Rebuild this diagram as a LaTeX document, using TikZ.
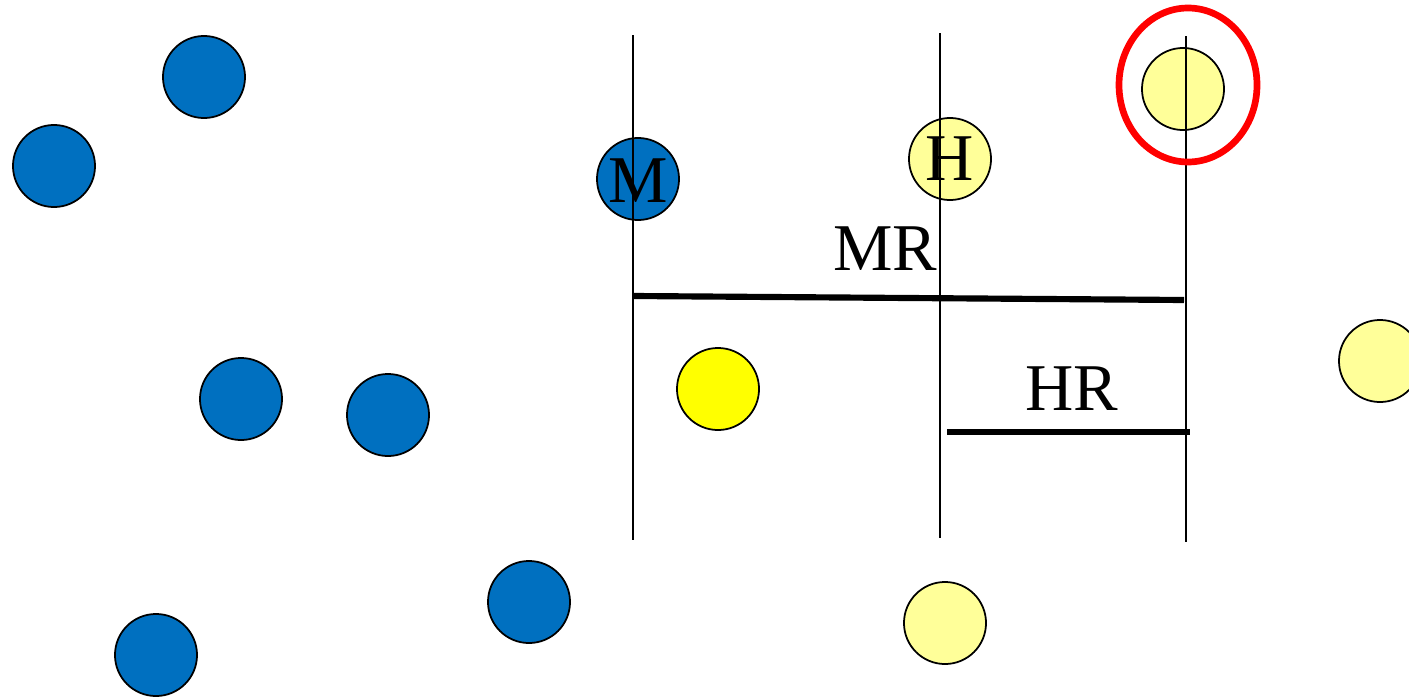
\documentclass[tikz,border=0pt]{standalone}
\usepackage{fontspec}
\setmainfont{Liberation Serif}
\usetikzlibrary{positioning}
\definecolor{ptblue}{HTML}{0070C0}
\definecolor{ptpale}{HTML}{FFFF99}
\definecolor{ptyellow}{HTML}{FFFF00}
\tikzset{
  pt/.style={
      circle,
      draw,
      line width=0.5pt,
      minimum size=0.82cm,
      inner sep=0pt,
      font=\fontsize{19}{21}\selectfont
    },
  ptb/.style={
      pt,
      fill=ptblue
    },
  pth/.style={
      pt,
      fill=ptpale
    },
  pty/.style={
      pt,
      fill=ptyellow
    },
  axis/.style={
      line width=0.4pt
    },
  rad/.style={
      line width=1.75pt
    },
  lbl/.style={
      font=\fontsize{19}{21}\selectfont
    }
}
\begin{document}
\begin{tikzpicture}[x=0.01cm, y=-0.01cm]
  \useasboundingbox (0,0) rectangle (1409,697);
  % blue points
  \node[ptb] (b1) at (204,77) {}; \node[ptb] (b2) at (54,166) {};
  \node[ptb] (b3) at (241,399) {}; \node[ptb] (b4) at (388,415) {};
  \node[ptb] (b5) at (529,602) {}; \node[ptb] (b6) at (156,655) {};
  \node[ptb] (m) at (638,179) {};
  % yellow points
  \node[pth] (h) at (950,159) {};
  \node[pty] (y1) at (718,389) {};
  \node[pth] (q) at (1183,89) {};
  \node[pth] (y2) at (1380,361) {};
  \node[pth] (y3) at (945,623) {};
  % vertical lines
  \coordinate (mt) at (633,35); \coordinate (mb) at (633,540);
  \coordinate (ht) at (940,33); \coordinate (hb) at (940,538);
  \coordinate (qt) at (1186,36); \coordinate (qb) at (1186,542);
  \draw[axis] (mt) -- (mb);
  \draw[axis] (ht) -- (hb);
  \draw[axis] (qt) -- (qb);
  \node[lbl] at (638,181) {M};
  \node[lbl] at (950,159) {H};
  % radii
  \coordinate (mr1) at (634,296); \coordinate (mr2) at (1184,300);
  \coordinate (hr1) at (947,432); \coordinate (hr2) at (1190,432);
  \draw[rad] (mr1) -- (mr2);
  \draw[rad] (hr1) -- (hr2);
  \node[lbl] (mrl) at (885,249) {MR};
  \node[lbl] (hrl) at (1072,389) {HR};
  % query mark
  \draw[red, line width=1.9pt] (1188,85) ellipse [x radius=69, y radius=77];
\end{tikzpicture}
\end{document}
